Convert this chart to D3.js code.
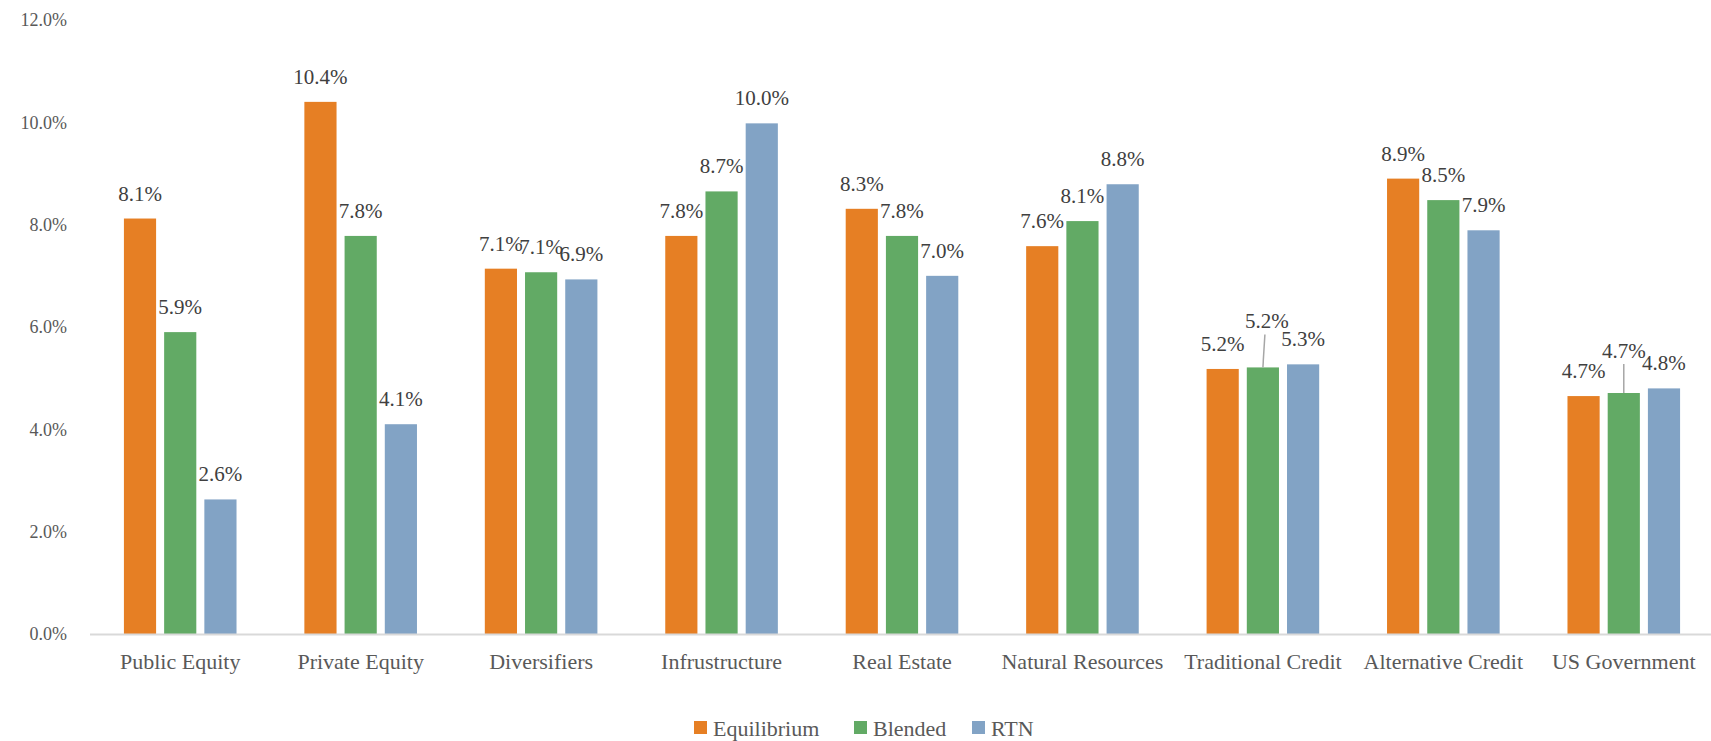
<!DOCTYPE html>
<html>
<head>
<meta charset="utf-8">
<script src="https://cdn.jsdelivr.net/npm/d3@7"></script>
<style>
    html, body { margin: 0; padding: 0; background: #fff; }
    svg { display: block; }
</style>
</head>
<body>
<svg id="chart"></svg>
<script>
// ===== DATA =====
const categories = ['Public Equity', 'Private Equity', 'Diversifiers', 'Infrustructure', 'Real Estate',
    'Natural Resources', 'Traditional Credit', 'Alternative Credit', 'US Government'];
const seriesNames = ['Equilibrium', 'Blended', 'RTN'];
const equilibrium = [8.12, 10.4, 7.14, 7.78, 8.31, 7.58, 5.18, 8.9, 4.65];
const blended = [5.9, 7.78, 7.07, 8.65, 7.78, 8.07, 5.21, 8.48, 4.71];
const rtn = [2.63, 4.1, 6.93, 9.98, 7.0, 8.79, 5.27, 7.89, 4.8];
const yTicks = [0, 2, 4, 6, 8, 10, 12];

// label nudges (series index, category index, dx, dy) for the crowded groups
const labelNudges = [
    { s: 1, c: 6, dx: 4, dy: -21, leader: true },
    { s: 1, c: 8, dx: 0, dy: -17, leader: true }
];

// ===== STYLE =====
const colors = ['#E67F24', '#62AA65', '#82A3C5'];
const font = '"Palatino Linotype", "Book Antiqua", Palatino, "Liberation Serif", serif';
const textColor = '#595959';

const width = 1711, height = 741;
const margin = { left: 90, right: -3, top: 20, bottom: 107 };

const svg = d3.select('#chart')
    .attr('width', width)
    .attr('height', height)
    .style('font-family', font);

const x0 = d3.scaleBand()
    .domain(categories)
    .range([margin.left, width - margin.right])
    .paddingInner(0.376)
    .paddingOuter(0.188);

const x1 = d3.scaleBand()
    .domain(seriesNames)
    .range([0, x0.bandwidth()])
    .paddingInner(0.2);

const y = d3.scaleLinear()
    .domain([0, 12])
    .range([height - margin.bottom, margin.top]);

// y axis labels (no line, no gridlines)
svg.append('g').selectAll('text')
    .data(yTicks)
    .join('text')
    .attr('x', 67)
    .attr('y', d => y(d))
    .attr('dy', '0.35em')
    .attr('text-anchor', 'end')
    .style('font-size', '18px')
    .style('fill', textColor)
    .text(d => d.toFixed(1) + '%');

// bars
const series = [equilibrium, blended, rtn];
const groups = svg.append('g').selectAll('g')
    .data(categories)
    .join('g')
    .attr('transform', d => `translate(${x0(d)},0)`);

groups.selectAll('rect')
    .data((d, i) => series.map((s, si) => ({ name: seriesNames[si], value: s[i], si })))
    .join('rect')
    .attr('x', d => x1(d.name))
    .attr('y', d => y(d.value))
    .attr('width', x1.bandwidth())
    .attr('height', d => y(0) - y(d.value))
    .attr('fill', d => colors[d.si]);

// baseline
svg.append('line')
    .attr('x1', margin.left)
    .attr('x2', width)
    .attr('y1', y(0) + 0.5)
    .attr('y2', y(0) + 0.5)
    .attr('stroke', '#D9D9D9')
    .attr('stroke-width', 2);

// value labels
groups.each(function (cat, ci) {
    const g = d3.select(this);
    series.forEach((s, si) => {
        const v = s[ci];
        const cx = x1(seriesNames[si]) + x1.bandwidth() / 2;
        const top = y(v);
        const nudge = labelNudges.find(n => n.s === si && n.c === ci);
        const dx = nudge ? nudge.dx : 0;
        const dy = nudge ? nudge.dy : 0;
        const ly = top - 18 + dy;
        if (nudge && nudge.leader) {
            g.append('line')
                .attr('x1', cx + dx * 0.5)
                .attr('x2', cx)
                .attr('y1', ly + 6)
                .attr('y2', top)
                .attr('stroke', '#A6A6A6')
                .attr('stroke-width', 1.5);
        }
        g.append('text')
            .attr('x', cx + dx)
            .attr('y', ly)
            .attr('text-anchor', 'middle')
            .style('font-size', '21px')
            .style('fill', '#404040')
            .text(v.toFixed(1) + '%');
    });
});

// category labels
svg.append('g').selectAll('text')
    .data(categories)
    .join('text')
    .attr('x', d => x0(d) + x0.bandwidth() / 2)
    .attr('y', y(0) + 35)
    .attr('text-anchor', 'middle')
    .style('font-size', '22px')
    .style('fill', textColor)
    .text(d => d);

// legend
const legendItems = [
    { name: seriesNames[0], x: 694 },
    { name: seriesNames[1], x: 854 },
    { name: seriesNames[2], x: 972 }
];
const legend = svg.append('g').selectAll('g')
    .data(legendItems)
    .join('g')
    .attr('transform', d => `translate(${d.x},${721})`);
legend.append('rect')
    .attr('width', 13)
    .attr('height', 13)
    .attr('fill', (d, i) => colors[i]);
legend.append('text')
    .attr('x', 19)
    .attr('y', 7)
    .attr('dy', '0.35em')
    .style('font-size', '22px')
    .style('fill', textColor)
    .text(d => d.name);
</script>
</body>
</html>
